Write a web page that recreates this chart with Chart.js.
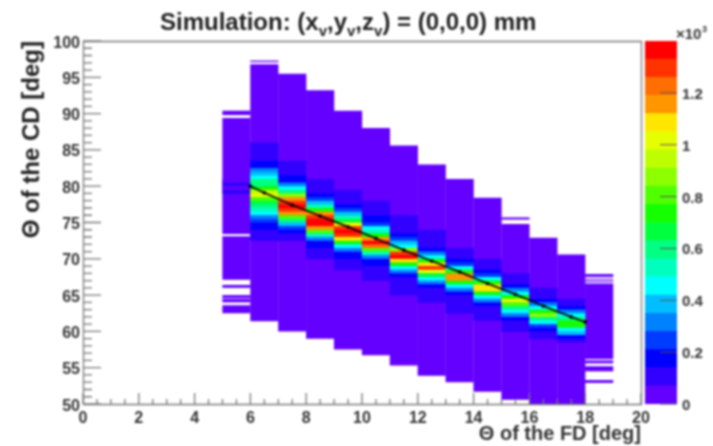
<!DOCTYPE html>
<html>
<head>
<meta charset="utf-8">
<script src="https://cdn.jsdelivr.net/npm/chart.js@4/dist/chart.umd.min.js"></script>
<style>
html, body { margin: 0; padding: 0; background: #fff; }
#wrap { position: relative; width: 713px; height: 446px; overflow: hidden; }
canvas { position: absolute; top: 0; filter: blur(0.8px); }
#mainChart { left: 0; }
#paletteChart { left: 640px; }
</style>
</head>
<body>
<div id="wrap">
<canvas id="mainChart" width="713" height="446"></canvas>
<canvas id="paletteChart" width="73" height="446"></canvas>
</div>
<script>
// contour palette, one colour per 70 counts, from 0 up to 1400
const bandColors = ['#6400ff', '#3200ff', '#0000ff', '#003cff', '#0082ff', '#00beff', '#00ffff',
    '#00ffbe', '#00ff82', '#00ff3c', '#14ff00', '#50ff00', '#8cff00', '#beff00', '#e6ff00',
    '#ffe600', '#ff9600', '#ff6e00', '#ff3200', '#ff0000'];
const bandStep = 70;

// bins of Theta FD (low edge)
const fdBins = ['0', '1', '2', '3', '4', '5', '6', '7', '8', '9', '10', '11', '12', '13', '14', '15', '16', '17', '18', '19'];

// filled stretches of each column at the lowest colour [from, to] in Theta CD
const floorCols = ['5', '6', '7', '8', '9', '10', '11', '12', '13', '14', '15', '16', '17', '18'];
const floorRuns = [
    [[62.5, 63.6], [64, 64.5], [64.6, 65], [66, 66.4], [67.1, 73.1], [73.4, 89.4], [89.8, 90.4]],
    [[61.4, 96.8], [97.1, 97.3]],
    [[60, 95.5]],
    [[59, 93.2]],
    [[57.5, 90.4]],
    [[56.7, 88]],
    [[55.3, 85.6]],
    [[53.9, 83]],
    [[53, 81]],
    [[51.7, 78.4]],
    [[50.6, 74.8], [75.4, 75.7]],
    [[50, 72.9]],
    [[50, 70.6]],
    [[52.9, 53.3], [54.5, 55.2], [55.6, 56], [56.2, 66.6], [66.8, 66.95], [67.1, 67.25], [67.5, 67.9]]
];

// counts in 0.5 deg bins around the ridge, going down from coreTops
const coreCols = ['5', '6', '7', '8', '9', '10', '11', '12', '13', '14', '15', '16', '17'];
const coreTops = [81, 86, 83.5, 81, 79.5, 78, 76, 74, 71.5, 70, 68, 66, 64.5];
const coreBinWidth = 0.5;
const col5 = [35, 90, 35, 90];
const col6 = [90, 100, 110, 120, 130, 170, 200, 280, 400, 470, 560, 620, 720, 920, 980, 830, 690, 590, 490, 420, 290, 220, 170, 140, 120, 100, 90];
const col7 = [100, 110, 120, 130, 140, 170, 300, 450, 620, 880, 1150, 1290, 1340, 1300, 1130, 800, 560, 400, 250, 150, 130, 110];
const col8 = [100, 110, 120, 130, 160, 240, 400, 490, 760, 1120, 1300, 1370, 1330, 1120, 780, 520, 330, 170, 140, 130, 120, 100];
const col9 = [100, 120, 130, 130, 170, 240, 400, 500, 680, 980, 1260, 1370, 1320, 1100, 730, 480, 300, 170, 140, 130, 120, 100];
const col10 = [100, 120, 130, 130, 150, 170, 240, 440, 490, 760, 1180, 1375, 1230, 800, 500, 330, 170, 140, 130, 120, 110, 90];
const col11 = [100, 110, 120, 130, 130, 160, 230, 360, 480, 860, 1280, 1340, 1080, 700, 470, 300, 170, 130, 130, 120, 110, 90];
const col12 = [90, 120, 130, 130, 130, 170, 280, 460, 720, 1090, 1260, 1020, 660, 450, 290, 170, 130, 130, 120, 90];
const col13 = [100, 120, 130, 150, 250, 450, 720, 1150, 1120, 740, 480, 310, 170, 130, 130, 120, 110, 90];
const col14 = [100, 110, 120, 150, 220, 460, 730, 1110, 1080, 720, 480, 300, 170, 130, 130, 120, 90];
const col15 = [100, 120, 130, 170, 300, 470, 740, 1040, 820, 600, 470, 300, 170, 130, 120, 90];
const col16 = [100, 120, 130, 170, 300, 470, 720, 880, 600, 440, 220, 150, 130, 90];
const col17 = [120, 130, 170, 300, 470, 600, 740, 700, 480, 350, 170, 130];
const coreCounts = [col5, col6, col7, col8, col9, col10, col11, col12, col13, col14, col15, col16, col17];

// profile line over the ridge
const ridgeX = [6, 6.5, 7.5, 8.5, 9.5, 10.5, 11.5, 12.5, 13.5, 14.5, 15.5, 16.5, 17.5, 18];
const ridgeY = [80, 79.1, 77.4, 75.9, 74.4, 72.8, 71.2, 69.7, 68.2, 66.6, 65.1, 63.5, 62, 61.3];

// axis ticks
const xMajor = [0, 2, 4, 6, 8, 10, 12, 14, 16, 18, 20];
const xMinor = [0.5, 1, 1.5, 2.5, 3, 3.5, 4.5, 5, 5.5, 6.5, 7, 7.5, 8.5, 9, 9.5, 10.5, 11, 11.5, 12.5, 13, 13.5, 14.5, 15, 15.5, 16.5, 17, 17.5, 18.5, 19, 19.5];
const yMajor = [50, 55, 60, 65, 70, 75, 80, 85, 90, 95, 100];
const yMinor = [51, 52, 53, 54, 56, 57, 58, 59, 61, 62, 63, 64, 66, 67, 68, 69, 71, 72, 73, 74, 76, 77, 78, 79, 81, 82, 83, 84, 86, 87, 88, 89, 91, 92, 93, 94, 96, 97, 98, 99];
const paletteTicks = [0, 0.2, 0.4, 0.6, 0.8, 1, 1.2];

const fontName = '"Liberation Sans", Arial, sans-serif';
const inkColor = '#333';
const axisColor = '#777';

function colorForCount(count) {
    return bandColors[Math.min(bandColors.length - 1, Math.floor(count / bandStep))];
}

// flat list of floating bars for the library
const floorBars = [];
floorCols.forEach(function (col, i) {
    floorRuns[i].forEach(function (run) {
        floorBars.push({ x: col, y: run });
    });
});
const coreBars = [];
coreCols.forEach(function (col, i) {
    coreCounts[i].forEach(function (count, j) {
        const top = coreTops[i] - j * coreBinWidth;
        // a little overlap so no purple seam shows between the bins
        coreBars.push({ x: col, y: [top - coreBinWidth - 0.06, top], count: count });
    });
});

// ROOT style ticks pointing into the frame, y labels and the title
const frameAndTicks = {
    id: 'frameAndTicks',
    afterDatasetsDraw: function (chart) {
        const c = chart.ctx, a = chart.chartArea;
        const xs = chart.scales.xVal, ys = chart.scales.y;
        c.save();
        c.strokeStyle = axisColor;
        c.lineWidth = 1.3;
        c.beginPath();
        c.rect(a.left + 0.5, a.top + 0.5, a.right - a.left, a.bottom - a.top);
        xMajor.forEach(function (v) {
            const p = xs.getPixelForValue(v);
            c.moveTo(p, a.bottom); c.lineTo(p, a.bottom - 11);
        });
        xMinor.forEach(function (v) {
            const p = xs.getPixelForValue(v);
            c.moveTo(p, a.bottom); c.lineTo(p, a.bottom - 5);
        });
        yMajor.forEach(function (v) {
            const p = ys.getPixelForValue(v);
            c.moveTo(a.left, p); c.lineTo(a.left + 18, p);
        });
        yMinor.forEach(function (v) {
            const p = ys.getPixelForValue(v);
            c.moveTo(a.left, p); c.lineTo(a.left + 9, p);
        });
        c.stroke();

        c.fillStyle = inkColor;
        c.font = 'bold 16px ' + fontName;
        c.textBaseline = 'alphabetic';
        c.textAlign = 'right';
        yMajor.forEach(function (v) {
            c.fillText(String(v), a.left - 3, ys.getPixelForValue(v) + 6.5);
        });

        // title with the v subscripts
        const parts = [['Simulation: (x', 0], ['v', 1], [',y', 0], ['v', 1], [',z', 0], ['v', 1], [') = (0,0,0) mm', 0]];
        let x = 160;
        c.fillStyle = '#222';
        c.textAlign = 'left';
        parts.forEach(function (part) {
            c.font = 'bold ' + (part[1] ? 15 : 24) + 'px ' + fontName;
            c.fillText(part[0], x, part[1] ? 36 : 30);
            x += c.measureText(part[0]).width;
        });
        c.restore();
    }
};

new Chart(document.getElementById('mainChart'), {
    data: {
        labels: fdBins,
        datasets: [
            {
                type: 'line',
                data: ridgeX.map(function (v, i) { return { x: v, y: ridgeY[i] }; }),
                xAxisID: 'xVal',
                borderColor: '#000',
                backgroundColor: '#000',
                borderWidth: 1.7,
                pointRadius: 1,
                tension: 0,
                order: 0
            },
            {
                type: 'bar',
                data: coreBars,
                xAxisID: 'x',
                backgroundColor: function (ctx) { return ctx.raw ? colorForCount(ctx.raw.count) : bandColors[0]; },
                barPercentage: 1.01,
                categoryPercentage: 1,
                grouped: false,
                order: 1
            },
            {
                type: 'bar',
                data: floorBars,
                xAxisID: 'x',
                backgroundColor: bandColors[0],
                barPercentage: 1.01,
                categoryPercentage: 1,
                grouped: false,
                order: 2
            }
        ]
    },
    options: {
        responsive: false,
        animation: false,
        layout: { padding: { left: 0, right: 72, top: 41, bottom: 0 } },
        plugins: { legend: { display: false }, tooltip: { enabled: false } },
        scales: {
            x: { type: 'category', display: false, offset: true },
            xVal: {
                type: 'linear',
                position: 'bottom',
                min: 0,
                max: 20,
                afterFit: function (scale) { scale.height = 42; },
                grid: { display: false, drawTicks: false },
                border: { display: false },
                ticks: {
                    stepSize: 2,
                    maxRotation: 0,
                    padding: 5,
                    color: inkColor,
                    font: { family: fontName, size: 16, weight: 'bold' }
                },
                title: {
                    display: true,
                    text: 'Θ of the FD [deg]',
                    align: 'end',
                    color: '#333',
                    padding: { top: 0, bottom: 0 },
                    font: { family: fontName, size: 20, weight: 'bold' }
                }
            },
            y: {
                min: 50,
                max: 100,
                afterFit: function (scale) { scale.width = 83; },
                grid: { display: false, drawTicks: false },
                border: { display: false },
                ticks: { display: false, stepSize: 5 },
                title: {
                    display: true,
                    text: 'Θ of the CD [deg]',
                    align: 'end',
                    color: '#222',
                    padding: { top: 18, bottom: 0 },
                    font: { family: fontName, size: 24, weight: 'bold' }
                }
            }
        }
    },
    plugins: [frameAndTicks]
});

// palette bar on the right, in thousands of counts
const paletteBars = bandColors.map(function (color, i) {
    return {
        data: [[i * bandStep / 1000, (i + 1) * bandStep / 1000]],
        backgroundColor: color,
        barPercentage: 1,
        categoryPercentage: 1,
        grouped: false
    };
});

const paletteMarks = {
    id: 'paletteMarks',
    afterDatasetsDraw: function (chart) {
        const c = chart.ctx, a = chart.chartArea, ys = chart.scales.y;
        c.save();
        c.strokeStyle = '#555';
        c.lineWidth = 1;
        c.beginPath();
        paletteTicks.forEach(function (v) {
            const p = ys.getPixelForValue(v);
            c.moveTo(a.right, p); c.lineTo(a.right - 17, p);
        });
        c.stroke();
        c.fillStyle = inkColor;
        c.textAlign = 'left';
        c.textBaseline = 'alphabetic';
        c.font = 'bold 15px ' + fontName;
        paletteTicks.forEach(function (v) {
            c.fillText(String(v), a.right + 5, ys.getPixelForValue(v) + 6);
        });
        c.fillText('×10', a.right - 1, 39);
        c.font = 'bold 9px ' + fontName;
        c.fillText('3', a.right + 25, 32);
        c.restore();
    }
};

new Chart(document.getElementById('paletteChart'), {
    type: 'bar',
    data: { labels: ['counts'], datasets: paletteBars },
    options: {
        responsive: false,
        animation: false,
        layout: { padding: { left: 5, right: 0, top: 41, bottom: 42 } },
        plugins: { legend: { display: false }, tooltip: { enabled: false } },
        scales: {
            x: { display: false },
            y: {
                position: 'right',
                min: 0,
                max: 1.4,
                afterFit: function (scale) { scale.width = 36; },
                grid: { display: false, drawTicks: false },
                border: { display: false },
                ticks: { display: false, stepSize: 0.2 }
            }
        }
    },
    plugins: [paletteMarks]
});
</script>
</body>
</html>
